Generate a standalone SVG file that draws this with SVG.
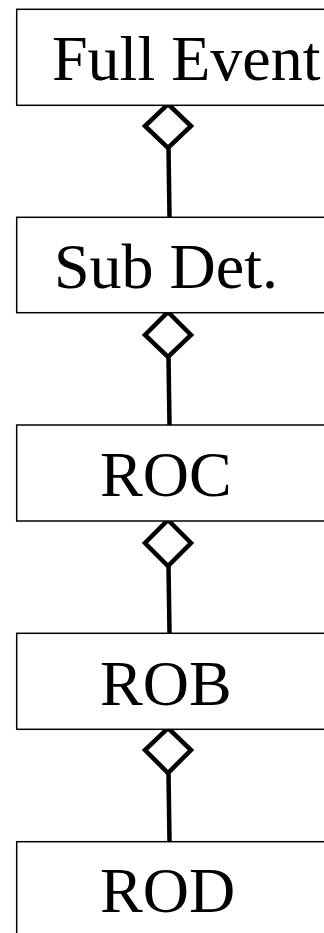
<svg xmlns="http://www.w3.org/2000/svg" width="324" height="933" viewBox="0 0 324 933">
  <style>
    .box { fill: #ffffff; stroke: #000000; stroke-width: 1.5; }
    .label { font-family: "Liberation Serif", "Times New Roman", serif; font-size: 64px; fill: #000000; }
    .link { fill: none; stroke: #000000; stroke-width: 4.5; }
    .diamond { fill: #ffffff; stroke: #000000; stroke-width: 4.5; stroke-linejoin: miter; }
  </style>
  <rect width="324" height="933" fill="#ffffff"/>

  <g id="connectors">
    <line class="link" x1="168.5" y1="148" x2="169.5" y2="217"/>
    <path class="diamond" d="M168,104 L191,126 L168,148 L145,126 Z"/>

    <line class="link" x1="168.5" y1="357" x2="169.5" y2="425"/>
    <path class="diamond" d="M168,312 L191,335 L168,357 L145,335 Z"/>

    <line class="link" x1="168.5" y1="566" x2="169.5" y2="633"/>
    <path class="diamond" d="M168,520 L191,543 L168,566 L145,543 Z"/>

    <line class="link" x1="168.5" y1="773" x2="169.5" y2="842"/>
    <path class="diamond" d="M168,728 L191,750 L168,773 L145,750 Z"/>
  </g>

  <g id="full-event">
    <rect class="box" x="16.7" y="9.3" width="320" height="96"/>
    <text class="label" x="52" y="80">Full Event</text>
  </g>
  <g id="sub-det">
    <rect class="box" x="16.7" y="217.3" width="320" height="95.4"/>
    <text class="label" x="54" y="288">Sub Det.</text>
  </g>
  <g id="roc">
    <rect class="box" x="16.7" y="425" width="320" height="96"/>
    <text class="label" x="100" y="496">ROC</text>
  </g>
  <g id="rob">
    <rect class="box" x="16.7" y="633.3" width="320" height="96"/>
    <text class="label" x="100" y="705">ROB</text>
  </g>
  <g id="rod">
    <rect class="box" x="16.7" y="841.7" width="320" height="120"/>
    <text class="label" x="100" y="912">ROD</text>
  </g>
</svg>
